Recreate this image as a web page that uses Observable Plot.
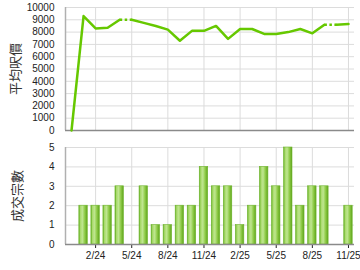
<!DOCTYPE html>
<html>
<head>
<meta charset="utf-8">
<script src="https://cdn.jsdelivr.net/npm/d3@7"></script>
<script src="https://cdn.jsdelivr.net/npm/@observablehq/plot@0.6"></script>
<style>
  html, body { margin: 0; padding: 0; background: #fff; }
  #chart { width: 360px; height: 270px; overflow: hidden; }
  #chart svg { display: block; }
</style>
</head>
<body>
<div id="chart"></div>
<script>
const months = ["12/23","1/24","2/24","3/24","4/24","5/24","6/24","7/24","8/24","9/24","10/24","11/24",
                "12/24","1/25","2/25","3/25","4/25","5/25","6/25","7/25","8/25","9/25","10/25","11/25"];
const avgPrice = [0,9300,8300,8350,9000,9000,8750,8500,8200,7300,8100,8100,
                  8500,7450,8250,8250,7850,7850,8000,8250,7900,8600,8600,8650];
const deals = [0,2,2,2,3,0,3,1,1,2,2,4,3,3,1,2,4,3,5,2,3,3,0,2];
const estimatedMonths = ["5/24","10/25"];
const xTickLabels = ["2/24","5/24","8/24","11/24","2/25","5/25","8/25","11/25"];
const priceTicks = [0,1000,2000,3000,4000,5000,6000,7000,8000,9000,10000];
const dealTicks = [0,1,2,3,4,5];
const priceLabel = "平均呎價";
const dealLabel = "成交宗數";

const tickIdx = xTickLabels.map(l => months.indexOf(l));
let grp = 0;
const pts = months.map((m, i) => {
  if (estimatedMonths.includes(m)) grp++;
  return {i, m, v: avgPrice[i], c: deals[i], g: grp};
});
const dotted = pts.filter(p => estimatedMonths.includes(p.m) && p.i > 0)
  .map(p => ({x1: p.i - 1, y1: pts[p.i - 1].v, x2: p.i, y2: p.v}));

const font = {fontFamily: "'Liberation Sans', Arial, sans-serif", fontSize: "10px", color: "#222", background: "#fff", overflow: "visible"};
const cjk = "'Noto Sans CJK TC', 'Noto Sans CJK SC', sans-serif";
const xDomain = [-0.5, months.length - 0.5];
const green = "#66c800";

const topPlot = Plot.plot({
  width: 360, height: 137,
  marginLeft: 65, marginRight: 6, marginTop: 7, marginBottom: 7,
  style: font,
  x: {domain: xDomain, axis: null},
  y: {domain: [0, 10000], ticks: priceTicks, tickSize: 0, tickPadding: 11, tickFormat: d => String(d), label: null},
  marks: [
    Plot.ruleY(priceTicks.filter(d => d > 0), {stroke: "#dcdcdc"}),
    Plot.ruleX(tickIdx, {stroke: "#dcdcdc"}),
    Plot.ruleX([xDomain[0]], {stroke: "#b0b0b0", strokeWidth: 1.5}),
    Plot.ruleY([0], {stroke: "#8a8a8a", strokeWidth: 1.5}),
    Plot.line(pts, {x: "i", y: "v", z: "g", stroke: green, strokeWidth: 2.5, strokeLinejoin: "round"}),
    Plot.link(dotted, {x1: "x1", y1: "y1", x2: "x2", y2: "y2", stroke: green, strokeWidth: 2.5, strokeDasharray: "2.5,2.5"}),
    Plot.text([priceLabel], {frameAnchor: "left", textAnchor: "middle", dx: -50, rotate: -90, fontSize: 13, fontFamily: cjk, fill: "#333"})
  ]
});

const botPlot = Plot.plot({
  width: 360, height: 133,
  marginLeft: 65, marginRight: 6, marginTop: 10, marginBottom: 26,
  style: font,
  x: {domain: xDomain, ticks: tickIdx, tickFormat: i => months[i], tickSize: 4, tickPadding: 3, label: null},
  y: {domain: [0, 5], ticks: dealTicks, tickSize: 0, tickPadding: 11, tickFormat: d => String(d), label: null},
  marks: [
    Plot.ruleY(dealTicks.filter(d => d > 0), {stroke: "#dcdcdc"}),
    Plot.ruleX(tickIdx, {stroke: "#dcdcdc"}),
    Plot.rectY(pts.filter(p => p.c > 0), {x1: p => p.i - 0.5, x2: p => p.i + 0.5, y: "c",
      insetLeft: 1.8, insetRight: 1.8, fill: "url(#barGrad)", stroke: "#6fb52c", strokeWidth: 0.6}),
    Plot.ruleX([xDomain[0]], {stroke: "#b0b0b0", strokeWidth: 1.5}),
    Plot.ruleY([0], {stroke: "#8a8a8a", strokeWidth: 1.5}),
    Plot.text([dealLabel], {frameAnchor: "left", textAnchor: "middle", dx: -48, rotate: -90, fontSize: 13, fontFamily: cjk, fill: "#333"})
  ]
});

const defs = d3.select(botPlot).insert("defs", ":first-child");
const grad = defs.append("linearGradient").attr("id", "barGrad").attr("x1", "0").attr("x2", "1").attr("y1", "0").attr("y2", "0");
[["0%", "#5fae1e"], ["18%", "#a9da6c"], ["42%", "#bfe690"], ["70%", "#8fcb48"], ["100%", "#5da41a"]]
  .forEach(([o, c]) => grad.append("stop").attr("offset", o).attr("stop-color", c));

const chart = document.getElementById("chart");
chart.appendChild(topPlot);
chart.appendChild(botPlot);
</script>
</body>
</html>
